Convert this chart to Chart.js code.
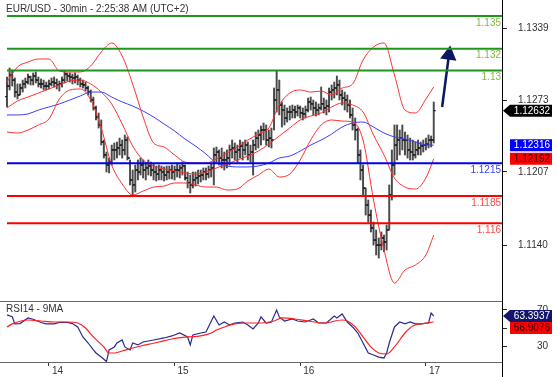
<!DOCTYPE html>
<html>
<head>
<meta charset="utf-8">
<title>EUR/USD 30min</title>
<script src="https://cdn.jsdelivr.net/npm/chart.js@4.4.1/dist/chart.umd.min.js"></script>
<style>
  html, body { margin: 0; padding: 0; background: #fff; }
  #wrap { position: relative; width: 557px; height: 377px; }
  canvas { position: absolute; left: 0; }
  #priceChart { top: 0; }
  #rsiChart { top: 302px; }
</style>
</head>
<body>
<div id="wrap">
  <canvas id="priceChart" width="557" height="302"></canvas>
  <canvas id="rsiChart" width="557" height="75"></canvas>
</div>
<script>
// Barres 30 min (index 0 = 13 16:00)
const opens = [1.12760,1.12858,1.12959,1.12913,1.12803,1.12776,1.12840,1.12877,1.12895,1.12941,
  1.12913,1.12950,1.12913,1.12877,1.12877,1.12858,1.12858,1.12877,1.12895,1.12886,
  1.12868,1.12877,1.12913,1.12968,1.12950,1.12941,1.12932,1.12941,1.12913,1.12877,
  1.12868,1.12840,1.12803,1.12730,1.12657,1.12574,1.12501,1.12345,1.12226,1.12134,
  1.12161,1.12272,1.12272,1.12290,1.12317,1.12272,1.12363,1.12198,1.11997,1.11951,
  1.12088,1.12070,1.12134,1.12088,1.12107,1.12125,1.12088,1.12070,1.12051,1.12088,
  1.12070,1.12042,1.12070,1.12088,1.12070,1.12088,1.12088,1.12107,1.12125,1.12015,
  1.11969,1.11951,1.11997,1.12015,1.12033,1.12042,1.12070,1.12051,1.12088,1.12107,
  1.12226,1.12253,1.12198,1.12180,1.12180,1.12198,1.12272,1.12290,1.12253,1.12272,
  1.12308,1.12272,1.12317,1.12226,1.12253,1.12317,1.12381,1.12409,1.12455,1.12455,
  1.12363,1.12381,1.12363,1.12730,1.12822,1.12684,1.12638,1.12565,1.12620,1.12620,
  1.12638,1.12620,1.12657,1.12611,1.12602,1.12638,1.12712,1.12694,1.12657,1.12638,
  1.12657,1.12694,1.12657,1.12675,1.12803,1.12822,1.12840,1.12868,1.12776,1.12748,
  1.12730,1.12684,1.12593,1.12501,1.12455,1.12226,1.12088,1.11923,1.11767,1.11675,
  1.11557,1.11446,1.11400,1.11400,1.11465,1.11428,1.11538,1.11859,1.12134,1.12317,
  1.12363,1.12381,1.12363,1.12363,1.12272,1.12253,1.12226,1.12272,1.12290,1.12308,
  1.12317,1.12326,1.12363,1.12363];
const highs = [1.12941,1.13023,1.13005,1.12932,1.12877,1.12877,1.12913,1.12932,1.12968,1.12950,
  1.12978,1.12987,1.12941,1.12923,1.12913,1.12895,1.12913,1.12932,1.12941,1.12923,
  1.12904,1.12941,1.12996,1.12978,1.12978,1.12968,1.12978,1.12959,1.12932,1.12913,
  1.12895,1.12858,1.12822,1.12757,1.12675,1.12611,1.12547,1.12363,1.12253,1.12198,
  1.12317,1.12336,1.12345,1.12381,1.12363,1.12409,1.12391,1.12180,1.12088,1.12134,
  1.12180,1.12198,1.12180,1.12152,1.12180,1.12161,1.12143,1.12125,1.12134,1.12125,
  1.12116,1.12125,1.12125,1.12134,1.12125,1.12152,1.12134,1.12161,1.12134,1.12070,
  1.12042,1.12070,1.12070,1.12088,1.12088,1.12107,1.12107,1.12125,1.12143,1.12290,
  1.12299,1.12272,1.12290,1.12253,1.12272,1.12317,1.12363,1.12336,1.12317,1.12363,
  1.12345,1.12363,1.12345,1.12317,1.12363,1.12436,1.12455,1.12491,1.12519,1.12501,
  1.12455,1.12473,1.12840,1.12996,1.12913,1.12712,1.12684,1.12657,1.12675,1.12684,
  1.12675,1.12684,1.12675,1.12657,1.12675,1.12748,1.12757,1.12730,1.12712,1.12694,
  1.12849,1.12748,1.12730,1.12840,1.12868,1.12895,1.12950,1.12913,1.12822,1.12803,
  1.12776,1.12730,1.12657,1.12565,1.12473,1.12272,1.12134,1.11923,1.11813,1.11721,
  1.11611,1.11538,1.11465,1.11520,1.11492,1.11584,1.11951,1.12272,1.12501,1.12501,
  1.12455,1.12501,1.12436,1.12409,1.12381,1.12363,1.12345,1.12363,1.12345,1.12363,
  1.12381,1.12409,1.12400,1.12712];
const lows = [1.12666,1.12822,1.12858,1.12757,1.12739,1.12776,1.12803,1.12840,1.12877,1.12868,
  1.12868,1.12886,1.12849,1.12840,1.12822,1.12822,1.12831,1.12858,1.12849,1.12831,
  1.12812,1.12849,1.12886,1.12904,1.12895,1.12877,1.12886,1.12868,1.12849,1.12840,
  1.12812,1.12776,1.12712,1.12638,1.12547,1.12473,1.12317,1.12198,1.12070,1.12061,
  1.12134,1.12180,1.12198,1.12226,1.12198,1.12226,1.12180,1.11951,1.11859,1.11886,
  1.11997,1.12042,1.12015,1.11997,1.12042,1.12033,1.11997,1.11987,1.11997,1.11997,
  1.11987,1.11997,1.12006,1.12006,1.11997,1.12024,1.12015,1.12042,1.11997,1.11923,
  1.11877,1.11923,1.11941,1.11960,1.11978,1.11997,1.11997,1.12015,1.12024,1.11951,
  1.12161,1.12134,1.12107,1.12088,1.12107,1.12134,1.12198,1.12180,1.12161,1.12198,
  1.12180,1.12226,1.12180,1.12161,1.12042,1.12272,1.12290,1.12317,1.12363,1.12317,
  1.12299,1.12290,1.12455,1.12620,1.12593,1.12482,1.12501,1.12528,1.12547,1.12565,
  1.12565,1.12583,1.12565,1.12547,1.12565,1.12620,1.12638,1.12593,1.12583,1.12593,
  1.12638,1.12611,1.12593,1.12620,1.12730,1.12748,1.12776,1.12730,1.12684,1.12638,
  1.12620,1.12565,1.12455,1.12363,1.12152,1.11997,1.11859,1.11675,1.11611,1.11520,
  1.11400,1.11309,1.11281,1.11355,1.11336,1.11355,1.11538,1.11813,1.12042,1.12180,
  1.12226,1.12272,1.12226,1.12198,1.12180,1.12180,1.12198,1.12226,1.12226,1.12253,
  1.12272,1.12290,1.12299,1.12336];
const closes = [1.12858,1.12959,1.12913,1.12803,1.12776,1.12840,1.12877,1.12895,1.12941,1.12913,
  1.12950,1.12913,1.12877,1.12877,1.12858,1.12858,1.12877,1.12895,1.12886,1.12868,
  1.12877,1.12913,1.12968,1.12950,1.12941,1.12932,1.12941,1.12913,1.12877,1.12868,
  1.12840,1.12803,1.12730,1.12657,1.12574,1.12501,1.12345,1.12226,1.12134,1.12161,
  1.12272,1.12272,1.12290,1.12317,1.12272,1.12363,1.12198,1.11997,1.11951,1.12088,
  1.12070,1.12134,1.12088,1.12107,1.12125,1.12088,1.12070,1.12051,1.12088,1.12070,
  1.12042,1.12070,1.12088,1.12070,1.12088,1.12088,1.12107,1.12125,1.12015,1.11969,
  1.11951,1.11997,1.12015,1.12033,1.12042,1.12070,1.12051,1.12088,1.12107,1.12226,
  1.12253,1.12198,1.12180,1.12180,1.12198,1.12272,1.12290,1.12253,1.12272,1.12308,
  1.12272,1.12317,1.12226,1.12253,1.12317,1.12381,1.12409,1.12455,1.12455,1.12363,
  1.12381,1.12363,1.12730,1.12822,1.12684,1.12638,1.12565,1.12620,1.12620,1.12638,
  1.12620,1.12657,1.12611,1.12602,1.12638,1.12712,1.12694,1.12657,1.12638,1.12657,
  1.12694,1.12657,1.12675,1.12803,1.12822,1.12840,1.12868,1.12776,1.12748,1.12730,
  1.12684,1.12593,1.12501,1.12455,1.12226,1.12088,1.11923,1.11767,1.11675,1.11557,
  1.11446,1.11400,1.11400,1.11465,1.11428,1.11538,1.11859,1.12134,1.12317,1.12363,
  1.12381,1.12363,1.12363,1.12272,1.12253,1.12226,1.12272,1.12290,1.12308,1.12317,
  1.12326,1.12363,1.12363,1.12632];

// Bandes de Bollinger et moyenne mobile (relevees toutes les 4 barres)
const bandIdx = [0,4,8,12,16,20,24,28,32,36,40,44,48,52,56,60,64,68,72,76,80,84,88,92,96,100,
  104,108,112,116,120,124,128,132,136,140,144,148,152,156,160,163];
const upperBand = [1.12895,1.13033,1.13078,1.13106,1.13106,1.12996,1.12987,1.12987,1.13042,1.13170,
  1.13253,1.13133,1.12877,1.12574,1.12336,1.12299,1.12226,1.12161,1.12152,1.12152,
  1.12189,1.12244,1.12299,1.12363,1.12418,1.12473,1.12684,1.12794,1.12822,1.12803,
  1.12812,1.12776,1.12840,1.12877,1.13097,1.13216,1.13253,1.12959,1.12638,1.12611,
  1.12739,1.12849];
const midBand = [1.12657,1.12721,1.12757,1.12794,1.12831,1.12868,1.12904,1.12913,1.12877,1.12803,
  1.12694,1.12510,1.12308,1.12180,1.12125,1.12097,1.12079,1.12061,1.12051,1.12070,
  1.12107,1.12143,1.12180,1.12216,1.12262,1.12326,1.12400,1.12473,1.12547,1.12583,
  1.12611,1.12666,1.12703,1.12684,1.12620,1.12409,1.12226,1.12015,1.11932,1.11914,
  1.12015,1.12192];
const lowerBand = [1.12436,1.12427,1.12455,1.12501,1.12556,1.12739,1.12822,1.12831,1.12730,1.12473,
  1.12134,1.11960,1.11859,1.11895,1.11932,1.11941,1.11969,1.11969,1.11951,1.11932,
  1.11932,1.11905,1.11914,1.11987,1.12042,1.12097,1.12024,1.12051,1.12180,1.12363,
  1.12501,1.12547,1.12537,1.12528,1.12363,1.11813,1.11355,1.11052,1.11171,1.11217,
  1.11309,1.11492];
const maLine = [1.12593,1.12593,1.12602,1.12638,1.12666,1.12694,1.12730,1.12767,1.12803,1.12803,
  1.12757,1.12712,1.12675,1.12629,1.12574,1.12510,1.12446,1.12372,1.12308,1.12235,
  1.12152,1.12125,1.12116,1.12116,1.12125,1.12152,1.12198,1.12216,1.12262,1.12317,
  1.12363,1.12418,1.12482,1.12519,1.12528,1.12482,1.12427,1.12391,1.12372,1.12345,
  1.12317,1.12316];

// Niveaux horizontaux
const levels = [1.135, 1.132, 1.13, 1.1215, 1.1185, 1.116];
const levelNames = ['1.135', '1.132', '1.13', '1.1215', '1.1185', '1.116'];
const levelColors = ['#1e961e', '#1e961e', '#1e961e', '#0000f0', '#ff0000', '#ff0000'];
const levelTextColors = ['#7cba3c', '#7cba3c', '#7cba3c', '#3c3cff', '#ff4a4a', '#ff4a4a'];

// Fleche de tendance
const arrowIdx = [166.2, 168.8];
const arrowVal = [1.12666, 1.13143];

// RSI14 et sa moyenne 9
const rsiIdx = [0,2,3,5,8,10,13,15,18,20,23,25,27,29,31,33,34,36,38,39,41,42,44,45,47,48,50,52,56,60,
  63,66,69,70,71,74,76,79,81,83,85,87,90,92,94,96,97,99,101,103,104,106,109,111,114,117,119,122,125,126,
  128,130,132,134,136,138,140,142,144,145,146,148,150,152,154,156,158,161,162,163];
const rsiVal = [64.6,62.6,54.8,55.2,61.3,59.9,56.4,54.8,54.8,56.4,56.4,55.2,51.5,40.6,34.0,26.4,23.1,18.7,13.8,26.4,
  29.7,34.0,37.3,29.7,26.4,34.0,31.9,35.1,37.3,39.5,41.7,44.9,40.6,31.9,42.8,44.9,46.0,63.5,53.7,56.9,
  53.7,55.8,56.9,53.7,49.3,55.8,62.4,55.8,56.9,70.0,62.4,58.0,60.2,58.0,56.9,60.2,55.8,55.8,63.5,61.3,
  65.7,56.9,51.5,44.9,34.0,23.1,20.9,18.7,17.7,23.1,34.0,51.5,56.9,54.8,56.9,54.8,54.8,55.8,66.7,63.3937];
const rsiMaIdx = [0,2,8,13,18,23,27,30,33,37,39,41,44,48,53,58,63,69,74,78,80,83,87,92,97,102,105,110,
  115,121,128,130,133,136,139,142,145,148,152,155,158,163];
const rsiMaVal = [51.5,54.8,59.1,58.0,56.9,56.9,55.8,50.4,40.6,29.7,23.1,23.1,25.3,28.6,31.9,35.1,38.4,40.6,
  41.7,44.9,48.2,51.5,54.8,55.8,55.8,58.0,61.3,60.2,58.0,55.8,59.1,58.0,51.5,40.6,29.7,23.1,22.0,29.7,
  44.9,52.6,54.8,56.9076];

// Axes
const priceTicks = [1.1339, 1.1273, 1.1207, 1.1140];
const rsiTicks = [30, 50, 70];
const dayTicks = [16, 64, 112, 160];
const dayLabels = ['14', '15', '16', '17'];

const X_MIN = -2.67, X_MAX = 189.07;
const PRICE_MIN = 1.10887, PRICE_MAX = 1.13647;
const RSI_MIN = 13.3, RSI_MAX = 78.7;
const AXIS_W = 55;
const FONT = '10px "Liberation Sans", Arial, sans-serif';

Chart.defaults.font.family = '"Liberation Sans", Arial, sans-serif';
Chart.defaults.font.size = 10;
Chart.defaults.color = '#333';

function toPoints(xs, ys) {
  return xs.map((x, i) => ({x: x, y: ys[i]}));
}

// Axe de droite a largeur fixe pour aligner les deux graphes
function fixAxisWidth(scale) {
  scale.width = AXIS_W;
  scale.paddingTop = 0;
  scale.paddingBottom = 0;
}

function lineSet(xs, ys, color, width, order) {
  return {
    data: toPoints(xs, ys),
    borderColor: color,
    borderWidth: width,
    pointRadius: 0,
    cubicInterpolationMode: 'monotone',
    order: order
  };
}

// Etiquette de valeur sur l'axe de droite
function drawTag(ctx, area, text, yc, bg, fg, arrow) {
  const left = area.right + 1, right = left + 49, h = 12;
  ctx.fillStyle = bg;
  ctx.beginPath();
  if (arrow) {
    ctx.moveTo(left, yc);
    ctx.lineTo(left + 7, yc - h / 2);
    ctx.lineTo(right, yc - h / 2);
    ctx.lineTo(right, yc + h / 2);
    ctx.lineTo(left + 7, yc + h / 2);
    ctx.closePath();
  } else {
    ctx.rect(left + 7, yc - h / 2, right - left - 7, h);
  }
  ctx.fill();
  ctx.fillStyle = fg;
  ctx.font = FONT;
  ctx.textAlign = 'right';
  ctx.textBaseline = 'middle';
  ctx.fillText(text, right - 2, yc + 0.5);
}

const priceDecor = {
  id: 'priceDecor',
  afterDatasetsDraw(chart) {
    const {ctx, chartArea, scales: {y}} = chart;
    ctx.save();
    ctx.font = FONT;
    ctx.textAlign = 'right';
    ctx.textBaseline = 'middle';
    levels.forEach((v, i) => {
      ctx.fillStyle = levelTextColors[i];
      ctx.fillText(levelNames[i], chartArea.right - 1, y.getPixelForValue(v) + 7);
    });
    ctx.fillStyle = '#333';
    ctx.textAlign = 'left';
    ctx.fillText('EUR/USD - 30min - 2:25:38 AM (UTC+2)', 6, 9);
    ctx.restore();
  },
  afterDraw(chart) {
    const {ctx, chartArea, scales: {y}} = chart;
    ctx.save();
    const last = closes[closes.length - 1];
    drawTag(ctx, chartArea, last.toFixed(5), y.getPixelForValue(last), '#000', '#fff', true);
    const maLast = maLine[maLine.length - 1];
    const midLast = midBand[midBand.length - 1];
    const yBlue = y.getPixelForValue(maLast);
    const yRed = Math.max(y.getPixelForValue(midLast), yBlue + 12);
    drawTag(ctx, chartArea, maLast.toFixed(5), yBlue, '#0000ff', '#fff', false);
    drawTag(ctx, chartArea, midLast.toFixed(5), yRed, '#ff0000', '#300', false);
    ctx.restore();
  }
};

const rsiDecor = {
  id: 'rsiDecor',
  afterDraw(chart) {
    const {ctx, chartArea, scales: {y}} = chart;
    ctx.save();
    ctx.font = FONT;
    ctx.fillStyle = '#333';
    ctx.textAlign = 'left';
    ctx.textBaseline = 'middle';
    ctx.fillText('RSI14 - 9MA', 6, 7);
    // l'axe vertical descend jusqu'en bas
    ctx.strokeStyle = '#000';
    ctx.lineWidth = 1;
    ctx.beginPath();
    ctx.moveTo(Math.round(chartArea.right) + 0.5, chartArea.bottom);
    ctx.lineTo(Math.round(chartArea.right) + 0.5, chart.height);
    ctx.stroke();
    const rsiLast = rsiVal[rsiVal.length - 1];
    const maLast = rsiMaVal[rsiMaVal.length - 1];
    const yBlue = y.getPixelForValue(rsiLast);
    const yRed = Math.max(y.getPixelForValue(maLast), yBlue + 12);
    drawTag(ctx, chartArea, rsiLast.toFixed(4), yBlue, '#14146e', '#fff', true);
    drawTag(ctx, chartArea, maLast.toFixed(4), yRed, '#ff0000', '#300', false);
    ctx.restore();
  }
};

const levelSets = levels.map((v, i) => ({
  data: [{x: 0, y: v}, {x: X_MAX, y: v}],
  borderColor: levelColors[i],
  borderWidth: 2,
  pointRadius: 0,
  order: 0
}));

const priceChart = new Chart(document.getElementById('priceChart'), {
  type: 'line',
  data: {
    datasets: [
      ...levelSets,
      {
        data: toPoints(arrowIdx, arrowVal),
        borderColor: '#0b1760',
        borderWidth: 2.5,
        pointRadius: [0, 7],
        pointStyle: 'triangle',
        pointRotation: 8,
        pointBackgroundColor: '#0b1760',
        pointBorderColor: '#0b1760',
        order: 1
      },
      lineSet(bandIdx, upperBand, '#ff3030', 1, 2),
      lineSet(bandIdx, midBand, '#ff3030', 1, 2),
      lineSet(bandIdx, lowerBand, '#ff3030', 1, 2),
      lineSet(bandIdx, maLine, '#3c3cff', 1, 2),
      {
        type: 'scatter',
        data: opens.map((o, i) => ({x: i - 0.4, y: o})),
        pointStyle: 'line',
        pointRadius: 1,
        pointBorderWidth: 1,
        pointBorderColor: '#000',
        order: 4
      },
      {
        type: 'scatter',
        data: closes.map((c, i) => ({x: i + 0.4, y: c})),
        pointStyle: 'line',
        pointRadius: 1,
        pointBorderWidth: 1,
        pointBorderColor: '#000',
        order: 4
      },
      {
        type: 'bar',
        data: highs.map((h, i) => ({x: i, y: [lows[i], h]})),
        backgroundColor: '#4a4a4a',
        barThickness: 1.3,
        grouped: false,
        order: 5
      }
    ]
  },
  options: {
    responsive: false,
    animation: false,
    events: [],
    layout: {padding: 0, autoPadding: false},
    plugins: {legend: {display: false}, tooltip: {enabled: false}},
    scales: {
      x: {
        type: 'linear', min: X_MIN, max: X_MAX, offset: false,
        ticks: {display: false},
        grid: {display: false, offset: false},
        border: {color: '#666'},
        afterFit: s => { s.height = 1; s.paddingLeft = 0; s.paddingRight = 0; }
      },
      y: {
        position: 'right', min: PRICE_MIN, max: PRICE_MAX,
        afterBuildTicks: s => { s.ticks = priceTicks.map(v => ({value: v})); },
        ticks: {callback: v => v.toFixed(4), padding: 11, color: '#333'},
        grid: {drawOnChartArea: false, tickLength: 5, color: '#222'},
        border: {color: '#000'},
        afterFit: fixAxisWidth
      }
    }
  },
  plugins: [priceDecor]
});

const rsiChart = new Chart(document.getElementById('rsiChart'), {
  type: 'line',
  data: {
    datasets: [
      lineSet(rsiMaIdx, rsiMaVal, '#ff2020', 1.2, 0),
      {
        data: toPoints(rsiIdx, rsiVal),
        borderColor: '#2a2a8c',
        borderWidth: 1.2,
        pointRadius: 0,
        order: 1
      }
    ]
  },
  options: {
    responsive: false,
    animation: false,
    events: [],
    layout: {padding: 0, autoPadding: false},
    plugins: {legend: {display: false}, tooltip: {enabled: false}},
    scales: {
      x: {
        type: 'linear', min: X_MIN, max: X_MAX, offset: false,
        afterBuildTicks: s => { s.ticks = dayTicks.map(v => ({value: v})); },
        ticks: {callback: (v, i) => dayLabels[i], align: 'start', labelOffset: 3, padding: -1,
                maxRotation: 0, autoSkip: false, color: '#333'},
        grid: {drawOnChartArea: false, tickLength: 4, color: '#333'},
        border: {color: '#666'},
        afterFit: s => { s.height = 15; s.paddingLeft = 0; s.paddingRight = 0; }
      },
      y: {
        position: 'right', min: RSI_MIN, max: RSI_MAX,
        afterBuildTicks: s => { s.ticks = rsiTicks.map(v => ({value: v})); },
        ticks: {padding: 30, color: '#333'},
        grid: {drawOnChartArea: false, tickLength: 5, color: '#222'},
        border: {color: '#000'},
        afterFit: fixAxisWidth
      }
    }
  },
  plugins: [rsiDecor]
});
</script>
</body>
</html>
